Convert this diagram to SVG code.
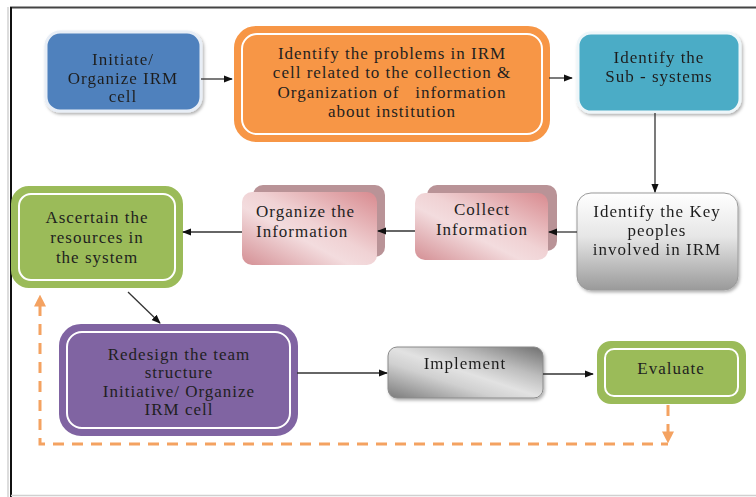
<svg xmlns="http://www.w3.org/2000/svg" width="756" height="497" viewBox="0 0 756 497">
  <defs>
    <style>
      .t { font-family: "Liberation Serif", "DejaVu Serif", serif; font-size: 17px; letter-spacing: 1px; fill: #1f1f1f; text-anchor: middle; }
      .tl { text-anchor: start; }
      .edge { stroke: #333; stroke-width: 1.3; fill: none; }
      .fb { stroke: #F4A261; stroke-width: 3; fill: none; stroke-dasharray: 11 8; }
      .ring { fill: none; stroke: #fff; stroke-width: 2; }
    </style>
    <marker id="ah" viewBox="0 0 10 10" refX="9" refY="5" markerWidth="7" markerHeight="7" orient="auto">
      <path d="M0,1 L10,5 L0,9 Z" fill="#111"/>
    </marker>
    <marker id="ahO" viewBox="0 0 10 10" refX="8" refY="5" markerWidth="4" markerHeight="4" orient="auto">
      <path d="M0,0 L10,5 L0,10 Z" fill="#F4A261"/>
    </marker>
    <filter id="sh" x="-10%" y="-10%" width="125%" height="130%">
      <feDropShadow dx="1.5" dy="2" stdDeviation="1.5" flood-color="#000" flood-opacity="0.3"/>
    </filter>
    <linearGradient id="gKey" x1="0" y1="0" x2="0" y2="1">
      <stop offset="0" stop-color="#ffffff"/>
      <stop offset="0.45" stop-color="#e6e6e6"/>
      <stop offset="1" stop-color="#9a9a9a"/>
    </linearGradient>
    <linearGradient id="gImp" x1="0" y1="1" x2="1" y2="0">
      <stop offset="0" stop-color="#7a7a7a"/>
      <stop offset="0.35" stop-color="#d0d0d0"/>
      <stop offset="0.5" stop-color="#e2e2e2"/>
      <stop offset="0.7" stop-color="#bdbdbd"/>
      <stop offset="1" stop-color="#6f6f6f"/>
    </linearGradient>
    <linearGradient id="gPink" x1="0" y1="1" x2="1" y2="0">
      <stop offset="0" stop-color="#d48f94"/>
      <stop offset="0.4" stop-color="#f3dcde"/>
      <stop offset="0.55" stop-color="#f0d2d4"/>
      <stop offset="1" stop-color="#d88a8f"/>
    </linearGradient>
  </defs>

  <!-- frame -->
  <rect width="756" height="497" fill="#fff"/>
  <line x1="10" y1="7.5" x2="756" y2="7.5" stroke="#444" stroke-width="2"/>
  <line x1="11" y1="7" x2="11" y2="497" stroke="#111" stroke-width="2"/>
  <line x1="8" y1="7" x2="8" y2="497" stroke="#bbb" stroke-width="1"/>
  <line x1="11" y1="495.5" x2="756" y2="495.5" stroke="#d0d0d0" stroke-width="1.5"/>

  <!-- nodes -->
  <g id="initiate" filter="url(#sh)">
    <rect x="46" y="32" width="155" height="79" rx="14" fill="#4F81BD" stroke="#e8eef6" stroke-width="3"/>
    <text class="t" x="123" y="65">Initiate/</text>
    <text class="t" x="123" y="84">Organize IRM</text>
    <text class="t" x="123" y="102">cell</text>
  </g>

  <g id="identify-problems">
    <rect x="236" y="28" width="312" height="112" rx="20" fill="#F79646" stroke="#F79646" stroke-width="4"/>
    <rect x="242" y="34" width="300" height="100" rx="15" class="ring"/>
    <text class="t" x="392" y="59">Identify the problems in IRM</text>
    <text class="t" x="392" y="78">cell related to the collection &amp;</text>
    <text class="t" x="392" y="98" xml:space="preserve">Organization of   information</text>
    <text class="t" x="392" y="117">about institution</text>
  </g>

  <g id="subsystems" filter="url(#sh)">
    <rect x="578" y="33" width="162" height="79" rx="13" fill="#4BACC6" stroke="#eef6f9" stroke-width="3"/>
    <text class="t" x="659" y="63">Identify the</text>
    <text class="t" x="659" y="82">Sub - systems</text>
  </g>

  <g id="key-people" filter="url(#sh)">
    <rect x="577" y="193" width="161" height="97" rx="14" fill="url(#gKey)" stroke="#9a9a9a" stroke-width="1"/>
    <text class="t" x="657" y="217">Identify the Key</text>
    <text class="t" x="657" y="236">peoples</text>
    <text class="t" x="657" y="255">involved in IRM</text>
  </g>

  <g id="collect">
    <rect x="427" y="185" width="130" height="66" rx="10" fill="#b99397"/>
    <rect x="415" y="193" width="133" height="67" rx="10" fill="url(#gPink)"/>
    <text class="t" x="482" y="215">Collect</text>
    <text class="t" x="482" y="235">Information</text>
  </g>

  <g id="organize">
    <rect x="253" y="185" width="132" height="72" rx="10" fill="#b99397"/>
    <rect x="242" y="192" width="135" height="73" rx="10" fill="url(#gPink)"/>
    <text class="t tl" x="256" y="217">Organize the</text>
    <text class="t tl" x="256" y="237">Information</text>
  </g>

  <g id="ascertain">
    <rect x="13" y="188" width="168" height="98" rx="16" fill="#9BBB59" stroke="#9BBB59" stroke-width="4"/>
    <rect x="19" y="194" width="156" height="86" rx="12" class="ring"/>
    <text class="t" x="97" y="223">Ascertain the</text>
    <text class="t" x="97" y="243">resources in</text>
    <text class="t" x="97" y="263">the system</text>
  </g>

  <g id="redesign">
    <rect x="61" y="326" width="235" height="108" rx="20" fill="#8064A2" stroke="#8064A2" stroke-width="4"/>
    <rect x="67" y="332" width="223" height="96" rx="15" class="ring"/>
    <text class="t" x="179" y="360">Redesign the team</text>
    <text class="t" x="179" y="378">structure</text>
    <text class="t" x="179" y="397">Initiative/ Organize</text>
    <text class="t" x="179" y="415">IRM cell</text>
  </g>

  <g id="implement" filter="url(#sh)">
    <rect x="388" y="347" width="155" height="51" rx="9" fill="url(#gImp)" stroke="#8a8a8a" stroke-width="1"/>
    <text class="t" x="465" y="369">Implement</text>
  </g>

  <g id="evaluate">
    <rect x="599" y="343" width="145" height="59" rx="12" fill="#9BBB59" stroke="#9BBB59" stroke-width="4"/>
    <rect x="605" y="349" width="133" height="47" rx="9" class="ring"/>
    <text class="t" x="671" y="374">Evaluate</text>
  </g>

  <!-- connectors -->
  <g id="connectors">
    <line class="edge" x1="201" y1="79" x2="232" y2="79" marker-end="url(#ah)"/>
    <line class="edge" x1="549" y1="78" x2="572" y2="78" marker-end="url(#ah)"/>
    <line class="edge" x1="655" y1="113" x2="655" y2="192" marker-end="url(#ah)"/>
    <line class="edge" x1="577" y1="232" x2="549" y2="232" marker-end="url(#ah)"/>
    <line class="edge" x1="415" y1="231" x2="378" y2="231" marker-end="url(#ah)"/>
    <line class="edge" x1="242" y1="232" x2="183" y2="232" marker-end="url(#ah)"/>
    <line class="edge" x1="128" y1="292" x2="160" y2="323" marker-end="url(#ah)"/>
    <line class="edge" x1="297" y1="373" x2="387" y2="373" marker-end="url(#ah)"/>
    <line class="edge" x1="543" y1="374" x2="593" y2="374" marker-end="url(#ah)"/>
    <!-- feedback loop -->
    <path class="fb" d="M668,405 L668,441" marker-end="url(#ahO)"/>
    <path class="fb" d="M668,444 L40,444 L40,297" stroke-dashoffset="4" marker-end="url(#ahO)"/>
  </g>
</svg>
